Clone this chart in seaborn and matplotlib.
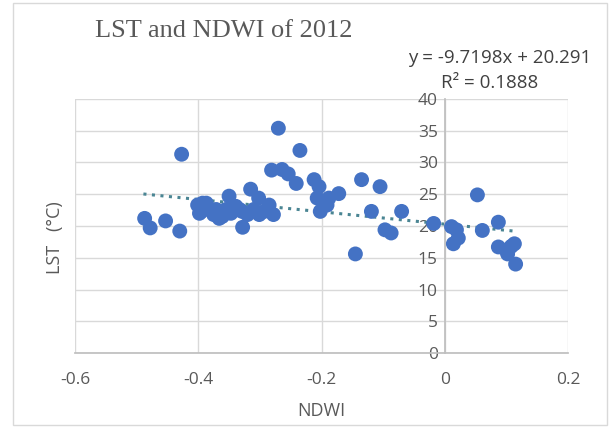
import matplotlib
matplotlib.use("Agg")
import matplotlib.pyplot as plt
from matplotlib.patches import Rectangle
import numpy as np
import pandas as pd
import seaborn as sns

# NDWI vs LST samples (2012)
ndwi = [-0.487, -0.478, -0.453, -0.430, -0.427,
        -0.401, -0.398, -0.395, -0.393, -0.387, -0.382, -0.375, -0.371,
        -0.366, -0.361, -0.355, -0.350, -0.347, -0.339, -0.333, -0.329,
        -0.328, -0.320, -0.315, -0.310, -0.302, -0.301, -0.293, -0.285,
        -0.281, -0.278, -0.270, -0.264, -0.254, -0.241, -0.235, -0.212,
        -0.204, -0.207, -0.202, -0.191, -0.188, -0.172, -0.145, -0.135,
        -0.105, -0.119, -0.070, -0.097, -0.087, -0.018, 0.011, 0.019,
        0.022, 0.014, 0.053, 0.061, 0.087, 0.087, 0.100, 0.102, 0.108,
        0.113, 0.115]
lst = [21.2, 19.7, 20.8, 19.2, 31.3,
       23.3, 22.0, 22.3, 23.6, 23.6, 22.6, 21.8, 22.6,
       21.2, 21.5, 22.6, 24.7, 22.0, 23.1, 22.6, 22.3,
       19.8, 21.8, 25.8, 22.6, 24.4, 21.8, 22.3, 23.3,
       28.8, 21.8, 35.4, 28.9, 28.2, 26.7, 31.9, 27.3,
       26.2, 24.4, 22.3, 23.3, 24.4, 25.1, 15.6, 27.3,
       26.2, 22.3, 22.3, 19.4, 18.9, 20.4, 19.9, 19.4,
       18.1, 17.2, 24.9, 19.3, 20.6, 16.7, 16.2, 15.6, 16.8,
       17.2, 14.0]

# Linear trendline coefficients as reported
slope = -9.7198
intercept = 20.291
r_squared = 0.1888

x_ticks = [-0.6, -0.4, -0.2, 0, 0.2]
x_tick_labels = ["-0.6", "-0.4", "-0.2", "0", "0.2"]
y_ticks = [0, 5, 10, 15, 20, 25, 30, 35, 40]

df = pd.DataFrame({"NDWI": ndwi, "LST": lst})

sns.set_theme(style="white")
plt.rcParams["font.family"] = ["Open Sans", "DejaVu Sans"]

text_gray = "#595959"
grid_gray = "#d9d9d9"

fig = plt.figure(figsize=(6.13, 4.28), dpi=100)
fig.patch.set_facecolor("white")
ax = fig.add_axes([75 / 613, 1 - 353 / 428, (568 - 75) / 613, (353 - 99) / 428])

# chart frame
fig.patches.append(Rectangle((13 / 613, 3 / 428), (607 - 13) / 613, (425 - 3) / 428,
                             transform=fig.transFigure, fill=False,
                             edgecolor="#d9d9d9", linewidth=1.0, zorder=0))

ax.set_xlim(-0.6, 0.2)
ax.set_ylim(0, 40)
ax.set_xticks(x_ticks)
ax.set_xticklabels(x_tick_labels)
ax.set_yticks(y_ticks)

ax.grid(True, color=grid_gray, linewidth=1.0)
ax.set_axisbelow(True)

for side in ["top", "right"]:
    ax.spines[side].set_visible(False)
ax.spines["bottom"].set_color("#bfbfbf")
ax.spines["left"].set_color("#bfbfbf")
ax.spines["left"].set_position(("data", 0))

ax.tick_params(axis="x", colors=text_gray, labelsize=12.5, length=0, pad=14)
ax.tick_params(axis="y", colors=text_gray, labelsize=12.5, length=4, width=1,
               direction="out", pad=1)
for t in ax.get_yticklines():
    t.set_color("#bfbfbf")

# trendline over the data range
tx = np.array([min(ndwi) - 0.002, max(ndwi) + 0.003])
ax.plot(tx, slope * tx + intercept, linestyle=(0, (1, 1.8)), color="#4a8593",
        linewidth=2.2, zorder=1)

sns.scatterplot(data=df, x="NDWI", y="LST", ax=ax, color="#4472c4",
                s=115, edgecolor="none", linewidth=0, zorder=3, legend=False)

ax.set_xlabel("NDWI", color=text_gray, fontsize=13, labelpad=10)
ax.set_ylabel("")
fig.text(55 / 613, 1 - 238 / 428, "LST   (°C)", rotation=90, color=text_gray,
         fontsize=13, ha="center", va="center")

fig.text(95 / 613, 1 - 31 / 428, "LST and NDWI of 2012", color=text_gray,
         fontsize=19, family=["Liberation Serif", "DejaVu Serif"],
         ha="left", va="center")

fig.text(500 / 613, 1 - 58 / 428, f"y = {slope}x + {intercept}", color="#404040",
         fontsize=13.5, ha="center", va="center")
fig.text(490 / 613, 1 - 83 / 428, f"R² = {r_squared}", color="#404040",
         fontsize=13.5, ha="center", va="center")

fig.savefig("out.png", dpi=100, facecolor="white")
